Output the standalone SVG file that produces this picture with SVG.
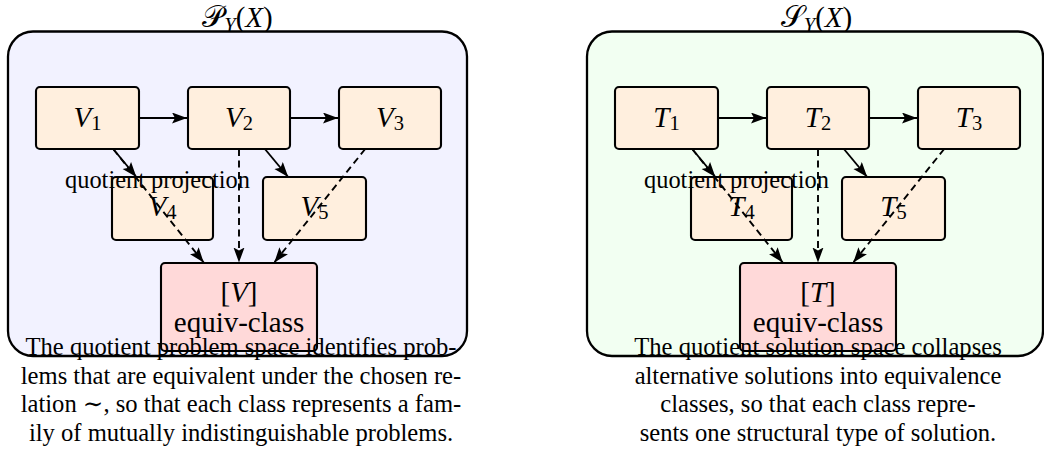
<svg xmlns="http://www.w3.org/2000/svg" width="1044" height="454" viewBox="0 0 1044 454" font-family="'Liberation Serif', 'Times New Roman', 'DejaVu Serif', serif">
  <style>
    .frame { stroke: #000; stroke-width: 2.3; }
    .frame-p { fill: #f2f2ff; }
    .frame-s { fill: #f2fff2; }
    .node rect { fill: #ffefde; stroke: #000; stroke-width: 2.1; }
    .node.cls rect { fill: #ffd9d9; }
    .lbl { font-size: 29px; text-anchor: middle; }
    .it { font-style: italic; }
    .sub { font-size: 20.5px; }
    .cal { font-size: 30px; }
    .title { font-size: 29px; text-anchor: middle; }
    .edge-label { font-size: 24.4px; text-anchor: middle; }
    .caption { font-size: 24.6px; text-anchor: middle; }
    .edge { stroke: #000; stroke-width: 1.9; fill: none; }
    .edge.dash { stroke-dasharray: 7 4.5; }
  </style>
  <defs>
    <!-- filled arrow tip with a slightly hollow back -->
    <marker id="head" markerUnits="userSpaceOnUse" markerWidth="16" markerHeight="12" refX="15" refY="5.5" orient="auto">
      <path d="M0,0 L15,5.5 L0,11 L3,5.5 z" fill="#000" stroke="none"/>
    </marker>
  </defs>

  <!-- problem space panel -->
  <g id="panel-problem">
    <text class="title" x="237.5" y="27"><tspan class="cal">𝒫</tspan><tspan class="it sub" dy="5">Y</tspan><tspan dy="-5">(</tspan><tspan class="it">X</tspan><tspan>)</tspan></text>
    <rect class="frame frame-p" x="8" y="31.5" width="459" height="324.5" rx="25"/>

    <g id="V1" class="node"><rect x="36" y="87" width="103" height="62" rx="4"/><text class="lbl" x="87.5" y="127"><tspan class="it">V</tspan><tspan class="sub" dy="3">1</tspan></text></g>
    <g id="V2" class="node"><rect x="188" y="87" width="102" height="62" rx="4"/><text class="lbl" x="239" y="127"><tspan class="it">V</tspan><tspan class="sub" dy="3">2</tspan></text></g>
    <g id="V3" class="node"><rect x="339" y="87" width="102" height="62" rx="4"/><text class="lbl" x="390" y="127"><tspan class="it">V</tspan><tspan class="sub" dy="3">3</tspan></text></g>
    <g id="V4" class="node"><rect x="112" y="177" width="101" height="63" rx="4"/><text class="lbl" x="162.5" y="216"><tspan class="it">V</tspan><tspan class="sub" dy="3">4</tspan></text></g>
    <g id="V5" class="node"><rect x="263" y="177" width="103" height="63" rx="4"/><text class="lbl" x="314.5" y="216"><tspan class="it">V</tspan><tspan class="sub" dy="3">5</tspan></text></g>
    <g id="Vclass" class="node cls"><rect x="161" y="263" width="156" height="88" rx="4"/><text class="lbl" x="239" y="301.5">[<tspan class="it">V</tspan>]</text><text class="lbl" x="239" y="331.5">equiv-class</text></g>

    <g id="edges-problem">
      <line class="edge" x1="139" y1="118" x2="187" y2="118" marker-end="url(#head)"/>
      <line class="edge" x1="290" y1="118" x2="338" y2="118" marker-end="url(#head)"/>
      <line class="edge" x1="113.2" y1="149" x2="136.4" y2="177" marker-end="url(#head)"/>
      <line class="edge" x1="264.9" y1="149" x2="288.2" y2="177" marker-end="url(#head)"/>
      <line class="edge dash" x1="113.2" y1="149" x2="203.7" y2="262.5" marker-end="url(#head)"/>
      <line class="edge dash" x1="239" y1="149" x2="239" y2="262.5" marker-end="url(#head)"/>
      <line class="edge dash" x1="365.2" y1="149" x2="274.3" y2="262.5" marker-end="url(#head)"/>
      <text class="edge-label" x="157.5" y="188">quotient projection</text>
    </g>

    <text class="caption" x="241" y="355">The quotient problem space identifies prob-</text>
    <text class="caption" x="241" y="383.5">lems that are equivalent under the chosen re-</text>
    <text class="caption" x="241" y="412">lation ∼, so that each class represents a fam-</text>
    <text class="caption" x="241" y="440.5">ily of mutually indistinguishable problems.</text>
  </g>

  <!-- solution space panel -->
  <g id="panel-solution" transform="translate(579,0)">
    <text class="title" x="237.5" y="27"><tspan class="cal">𝒮</tspan><tspan class="it sub" dy="5">Y</tspan><tspan dy="-5">(</tspan><tspan class="it">X</tspan><tspan>)</tspan></text>
    <rect class="frame frame-s" x="8" y="31.5" width="456" height="324.5" rx="25"/>

    <g id="T1" class="node"><rect x="36" y="87" width="103" height="62" rx="4"/><text class="lbl" x="87.5" y="127"><tspan class="it">T</tspan><tspan class="sub" dy="3">1</tspan></text></g>
    <g id="T2" class="node"><rect x="188" y="87" width="102" height="62" rx="4"/><text class="lbl" x="239" y="127"><tspan class="it">T</tspan><tspan class="sub" dy="3">2</tspan></text></g>
    <g id="T3" class="node"><rect x="339" y="87" width="102" height="62" rx="4"/><text class="lbl" x="390" y="127"><tspan class="it">T</tspan><tspan class="sub" dy="3">3</tspan></text></g>
    <g id="T4" class="node"><rect x="112" y="177" width="101" height="63" rx="4"/><text class="lbl" x="162.5" y="216"><tspan class="it">T</tspan><tspan class="sub" dy="3">4</tspan></text></g>
    <g id="T5" class="node"><rect x="263" y="177" width="103" height="63" rx="4"/><text class="lbl" x="314.5" y="216"><tspan class="it">T</tspan><tspan class="sub" dy="3">5</tspan></text></g>
    <g id="Tclass" class="node cls"><rect x="161" y="263" width="156" height="88" rx="4"/><text class="lbl" x="239" y="301.5">[<tspan class="it">T</tspan>]</text><text class="lbl" x="239" y="331.5">equiv-class</text></g>

    <g id="edges-solution">
      <line class="edge" x1="139" y1="118" x2="187" y2="118" marker-end="url(#head)"/>
      <line class="edge" x1="290" y1="118" x2="338" y2="118" marker-end="url(#head)"/>
      <line class="edge" x1="113.2" y1="149" x2="136.4" y2="177" marker-end="url(#head)"/>
      <line class="edge" x1="264.9" y1="149" x2="288.2" y2="177" marker-end="url(#head)"/>
      <line class="edge dash" x1="113.2" y1="149" x2="203.7" y2="262.5" marker-end="url(#head)"/>
      <line class="edge dash" x1="239" y1="149" x2="239" y2="262.5" marker-end="url(#head)"/>
      <line class="edge dash" x1="365.2" y1="149" x2="274.3" y2="262.5" marker-end="url(#head)"/>
      <text class="edge-label" x="157.5" y="188">quotient projection</text>
    </g>

    <text class="caption" x="239" y="355">The quotient solution space collapses</text>
    <text class="caption" x="239" y="383.5">alternative solutions into equivalence</text>
    <text class="caption" x="239" y="412">classes, so that each class repre-</text>
    <text class="caption" x="239" y="440.5">sents one structural type of solution.</text>
  </g>
</svg>
